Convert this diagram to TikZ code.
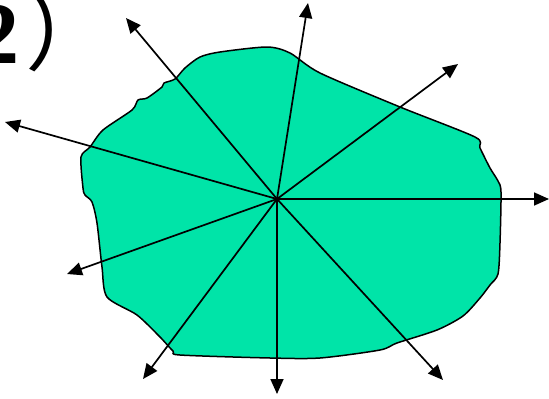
\documentclass[tikz,border=0pt]{standalone}
\usepackage{fontspec}
\setmainfont{Liberation Serif}
\newfontfamily\cjk{Noto Sans CJK SC}
\usetikzlibrary{arrows.meta}
\definecolor{blobgreen}{RGB}{0,228,168}
\begin{document}
\begin{tikzpicture}[
  x=1pt, y=-1pt,
  blob/.style={draw, line width=1.5pt, fill=blobgreen, line join=round},
  ray/.style={line width=1.7pt, -{Triangle[length=15pt, width=13pt]}},
  lbl/.style={inner sep=0pt, font=\fontsize{88}{88}\selectfont\bfseries}
]
\useasboundingbox (0,0) rectangle (549,399);
% outline of the region
\draw[blob] plot[smooth cycle, tension=0.45] coordinates {
  (81,157) (90,147) (103,130) (132,110) (138,100) (147,98) (162,87)
  (164,83) (175,79) (185,68) (200,57) (220,52) (267,47) (290,53)
  (320,73) (400,107) (475,137) (480,148) (490,168) (498,181) (501,192)
  (500,243) (498,274) (490,285) (480,298) (463,316) (437,330) (397,343)
  (380,350) (320,358) (270,358) (180,355) (173,351) (160,337) (137,315)
  (107,297) (102,267) (97,223) (92,202) (85,195) (83,188)};
% rays
\coordinate (o) at (277,199);
\coordinate (ul) at (126,18);
\coordinate (up) at (308,3);
\coordinate (ur) at (458,64);
\coordinate (rt) at (549,199);
\coordinate (dr) at (443,380);
\coordinate (dn) at (277,394);
\coordinate (dl) at (143,379);
\coordinate (ld) at (67,274);
\coordinate (lu) at (5,122);
\draw[ray] (o) -- (ul);
\draw[ray] (o) -- (up);
\draw[ray] (o) -- (ur);
\draw[ray] (o) -- (rt);
\draw[ray] (o) -- (dr);
\draw[ray] (o) -- (dn);
\draw[ray] (o) -- (dl);
\draw[ray] (o) -- (ld);
\draw[ray] (o) -- (lu);
\node[lbl, anchor=base west] (num) at (-25,63) {2\hspace{6pt}{\cjk\mdseries ）}};
\end{tikzpicture}
\end{document}
